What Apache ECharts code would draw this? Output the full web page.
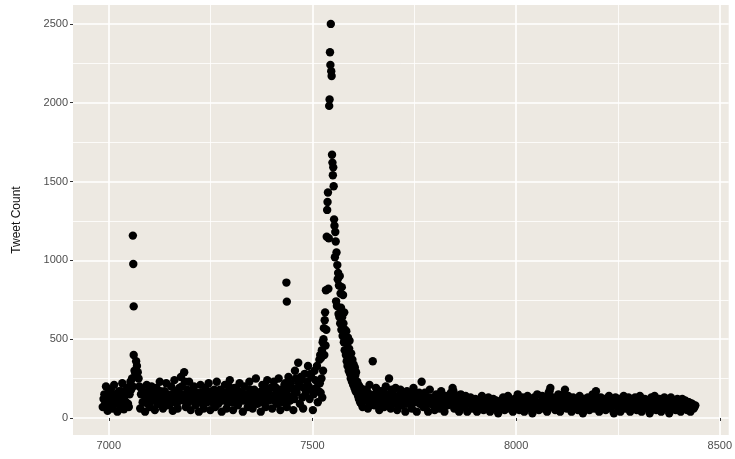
<!DOCTYPE html>
<html>
<head>
<meta charset="utf-8">
<script src="https://cdn.jsdelivr.net/npm/echarts@6/dist/echarts.min.js"></script>
<style>
html,body{margin:0;padding:0;background:#fff;}
#chart{width:735px;height:459px;}
</style>
</head>
<body>
<div id="chart"></div>
<script>
// ---- data (hour index -> tweet count) ----
const baseStart = 6985, baseStep = 4;
const baseCounts = [
70,150,200,45,110,180,60,210,
90,40,170,130,220,55,100,190,
70,230,250,400,280,330,250,60,
180,100,40,210,150,70,200,120,
50,190,90,230,140,60,170,220,
80,130,200,45,240,110,60,190,
260,150,290,70,180,230,50,120,
200,80,160,40,210,130,60,190,
100,220,50,170,140,70,230,90,
180,40,120,210,60,160,240,100,
50,190,140,80,220,110,40,200,
150,70,230,120,60,180,250,90,
140,40,210,160,70,240,110,190,
60,230,150,90,250,50,180,130,
220,70,260,110,190,50,300,160,
350,90,240,60,280,170,330,120,
260,50,300,190,100,370
];
const baseFillStart = 6987, baseFillStep = 4;
const baseFillCounts = [
120,90,130,160,80,140,110,150,
130,100,80,170,140,110,150,90,
150,180,200,300,360,290,200,150,
100,160,120,90,170,130,110,160,
120,90,150,170,100,130,90,150,
140,90,150,120,170,90,140,120,
200,110,230,130,100,160,110,170,
130,110,140,100,160,90,130,150,
150,110,130,100,180,120,160,140,
120,110,160,140,100,200,140,170,
130,100,180,150,120,160,110,150,
110,140,180,90,130,150,120,160,
100,170,130,110,190,150,140,120,
140,110,190,170,120,160,100,210,
150,180,110,220,140,120,250,190,
220,260,130,190,150,230,200,280,
180,150,240,330,170
];
const spikeStart = 7518, spikeStep = 1;
const spikeCounts = [
220,400,160,380,250,430,130,480,300,500,
570,400,620,670,460,810,560,1150,1320,1370,
1430,820,1140,1980,2020,2320,2240,2500,2200,2170,
1670,1620,1540,1590,1470,1260,1220,1020,1180,1120,
740,1050,710,970,880,920,660,840,640,900,
600,790,700,560,830,640,520,780,600,480,
670,430,560,520,400,550,360,470,330,510,
400,300,440,490,280,380,250,410,330,230,
370,280,210,340,250,190,320,270,170,290,
220,160,230,190,140,210,120,200,160,100,
190,130,90,180,140,70,170,110
];
const tailStart = 7628, tailStep = 4;
const tailCounts = [
180,150,60,210,
130,360,80,190,110,50,170,140,
70,200,120,250,60,160,100,190,
50,140,180,80,120,40,170,100,
150,60,190,110,40,140,90,230,
70,160,110,40,180,90,130,50,
150,100,60,170,120,40,140,80,
110,160,190,60,130,90,40,150,
110,70,140,40,100,130,60,90,
120,40,110,80,140,50,100,70,
130,40,90,120,60,110,30,100,
70,130,50,90,140,60,110,40,
120,80,150,50,100,130,40,90,
140,60,110,30,130,80,150,50,
100,140,60,120,40,160,190,70,
130,50,110,150,40,90,120,180,
60,140,100,40,130,80,110,50,
140,90,30,120,70,130,50,100,
150,60,170,110,40,130,80,120,
50,100,140,60,110,30,130,80,
120,40,100,140,60,90,130,40,
110,70,130,50,100,140,40,90,
120,60,110,30,130,80,140,50,
100,120,40,90,130,60,110,30,
130,70,100,50,120,90,40,120,
80,110,50,100,40,90,60,80
];
const tailFillStart = 7630, tailFillStep = 4;
const tailFillCounts = [
120,170,100,150,90,130,110,160,
90,140,110,170,130,90,150,120,
180,100,140,90,130,110,80,150,
120,90,140,100,80,160,110,130,
100,160,90,120,140,80,110,130,
90,120,100,80,130,90,110,120,
80,110,130,100,90,120,170,100,
140,80,110,90,120,80,100,110,
90,120,80,100,70,110,90,120,
80,100,70,110,90,80,100,70,
110,80,100,70,110,90,80,100,
90,70,110,80,100,90,70,110,
80,100,70,110,90,80,100,70,
110,90,80,100,70,110,90,80,
120,170,90,100,80,110,90,70,
100,80,150,110,90,70,110,80,
100,70,90,110,80,100,70,90,
110,80,100,70,120,150,90,80,
100,90,70,110,80,100,70,90,
110,80,100,70,90,110,80,70,
100,90,70,110,80,100,70,90,
110,80,100,70,90,110,80,70,
100,120,80,90,70,110,80,100,
70,90,110,80,100,70,90,110,
80,100,70,90,110,80,100,70,
90,80,70
];
const outlierHours = [7059, 7060, 7061, 7436, 7437];
const outlierCounts = [1157, 977, 708, 859, 738];

const xTickLabels = [7000, 7500, 8000, 8500];
const yTickLabels = [0, 500, 1000, 1500, 2000, 2500];

// ---- build points ----
const points = [];
function addSeg(start, step, arr){ arr.forEach((v,i)=>points.push([start + i*step, v])); }
addSeg(baseStart, baseStep, baseCounts);
addSeg(baseFillStart, baseFillStep, baseFillCounts);
addSeg(spikeStart, spikeStep, spikeCounts);
addSeg(tailStart, tailStep, tailCounts);
addSeg(tailFillStart, tailFillStep, tailFillCounts);
outlierHours.forEach((h,i)=>points.push([h, outlierCounts[i]]));

const labelStyle = {color:'#4D4D4D', fontSize:11, fontFamily:'Liberation Sans, Arial, sans-serif'};
const chart = echarts.init(document.getElementById('chart'), null, {renderer:'canvas'});
chart.setOption({
  animation:false,
  backgroundColor:'#ffffff',
  grid:{left:73, top:5, right:5, bottom:24, show:true, backgroundColor:'#EDE9E2', borderWidth:0, containLabel:false},
  xAxis:{
    type:'value', min:6912, max:8522, splitNumber:3,
    axisLine:{show:false},
    axisTick:{show:true, length:3, lineStyle:{color:'#333', width:1}, customValues:xTickLabels},
    axisLabel:{...labelStyle, margin:5, customValues:xTickLabels, formatter:v=>String(v)},
    splitLine:{show:true, lineStyle:{color:'#ffffff', width:1.6}},
    minorTick:{show:false, splitNumber:2},
    minorSplitLine:{show:true, lineStyle:{color:'#ffffff', width:0.8}}
  },
  yAxis:{
    type:'value', min:-108, max:2620, splitNumber:5,
    name:'Tweet Count', nameLocation:'middle', nameRotate:90, nameGap:50,
    nameTextStyle:{color:'#111', fontSize:12, fontFamily:'Liberation Sans, Arial, sans-serif'},
    axisLine:{show:false},
    axisTick:{show:true, length:3, lineStyle:{color:'#333', width:1}, customValues:yTickLabels},
    axisLabel:{...labelStyle, margin:5, customValues:yTickLabels, formatter:v=>String(v)},
    splitLine:{show:true, lineStyle:{color:'#ffffff', width:1.6}},
    minorTick:{show:false, splitNumber:2},
    minorSplitLine:{show:true, lineStyle:{color:'#ffffff', width:0.8}}
  },
  series:[{
    type:'scatter',
    data:points,
    symbol:'circle',
    symbolSize:8.4,
    itemStyle:{color:'#000000', opacity:1},
    large:false
  }]
});
</script>
</body>
</html>
